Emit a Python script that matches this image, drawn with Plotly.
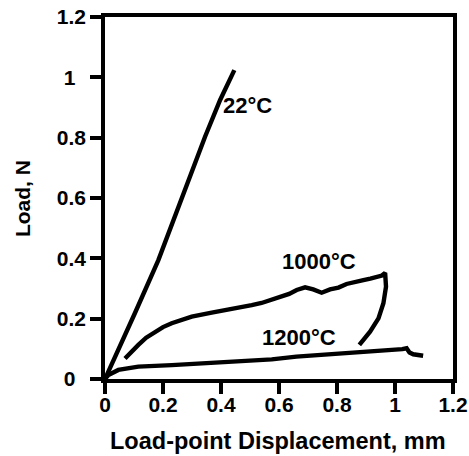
import plotly.graph_objects as go

# 22 °C curve
x22 = [0.0, 0.012, 0.03, 0.046, 0.103, 0.184, 0.27, 0.345, 0.397, 0.446]
y22 = [0.0, 0.025, 0.065, 0.096, 0.218, 0.394, 0.615, 0.803, 0.925, 1.024]

# 1000 °C curve
x1000 = [0.069, 0.09, 0.115, 0.142, 0.172, 0.2, 0.23, 0.265, 0.299, 0.368, 0.437, 0.47, 0.506, 0.54, 0.575, 0.609,
         0.635, 0.661, 0.69, 0.718, 0.747, 0.776, 0.805, 0.833, 0.862, 0.891, 0.915, 0.937,
         0.955, 0.966, 0.969, 0.960, 0.943, 0.914, 0.877]
y1000 = [0.068, 0.09, 0.113, 0.137, 0.157, 0.172, 0.185, 0.197, 0.207, 0.22, 0.231, 0.236, 0.245, 0.252, 0.262, 0.273,
         0.282, 0.295, 0.304, 0.297, 0.286, 0.297, 0.303, 0.315, 0.32, 0.328, 0.333, 0.339,
         0.343, 0.352, 0.306, 0.251, 0.201, 0.157, 0.113]

# 1200 °C curve
x1200 = [0.0, 0.0115, 0.046, 0.115, 0.23, 0.345, 0.46, 0.575, 0.66, 0.718, 0.78, 0.833,
         0.89, 0.948, 1.006, 1.025, 1.040, 1.05, 1.063, 1.08, 1.097]
y1200 = [0.0, 0.013, 0.03, 0.041, 0.046, 0.052, 0.057, 0.065, 0.074, 0.078, 0.082, 0.086,
         0.09, 0.093, 0.095, 0.099, 0.102, 0.088, 0.082, 0.079, 0.077]

labels = ["22°C", "1000°C", "1200°C"]
label_x = [0.40, 0.603, 0.534]
label_y = [0.908, 0.39, 0.139]

xticks = [0, 0.2, 0.4, 0.6, 0.8, 1, 1.2]
xticktext = ["0", "0.2", "0.4", "0.6", "0.8", "1", "1.2"]
yticks = [0, 0.2, 0.4, 0.6, 0.8, 1, 1.2]
yticktext = ["0\u2002", "0.2", "0.4", "0.6", "0.8", "1\u2002", "1.2"]

x_title = "Load-point Displacement, mm"
y_title = "Load, N"

FONT = "Liberation Sans, Arial, sans-serif"

fig = go.Figure()
for xs, ys in [(x22, y22), (x1000, y1000), (x1200, y1200)]:
    fig.add_trace(go.Scatter(x=xs, y=ys, mode="lines",
                             line=dict(color="black", width=4.4),
                             showlegend=False))

for t, lx, ly in zip(labels, label_x, label_y):
    fig.add_annotation(x=lx, y=ly, text="<b>" + t + "</b>", showarrow=False,
                       xanchor="left", yanchor="middle",
                       font=dict(family=FONT, size=22, color="black"))

# axis titles
fig.add_annotation(xref="paper", yref="paper", x=0.496, y=-0.171,
                   text="<b>" + x_title + "</b>", showarrow=False,
                   xanchor="center", yanchor="middle",
                   font=dict(family=FONT, size=23.5, color="black"))
fig.add_annotation(xref="paper", yref="paper", x=-0.2385, y=0.497,
                   text="<b>" + y_title + "</b>", showarrow=False, textangle=-90,
                   xanchor="center", yanchor="middle",
                   font=dict(family=FONT, size=21, color="black"))

axis_common = dict(showgrid=False, zeroline=False, showline=True, linecolor="black",
                   linewidth=3.5, mirror=True, ticks="outside", ticklen=11,
                   tickwidth=3.5, tickcolor="black", automargin=False,
                   tickfont=dict(family=FONT, size=21, color="black", weight="bold"))

fig.update_xaxes(range=[0, 1.2], tickvals=xticks, ticktext=xticktext,
                 ticklabelstandoff=-7, **axis_common)
fig.update_yaxes(range=[0, 1.2], tickvals=yticks, ticktext=yticktext, **axis_common)

fig.update_layout(width=469, height=456,
                  margin=dict(l=105, r=16, t=17, b=77, autoexpand=False),
                  plot_bgcolor="white", paper_bgcolor="white")

fig.write_html("out.html")
